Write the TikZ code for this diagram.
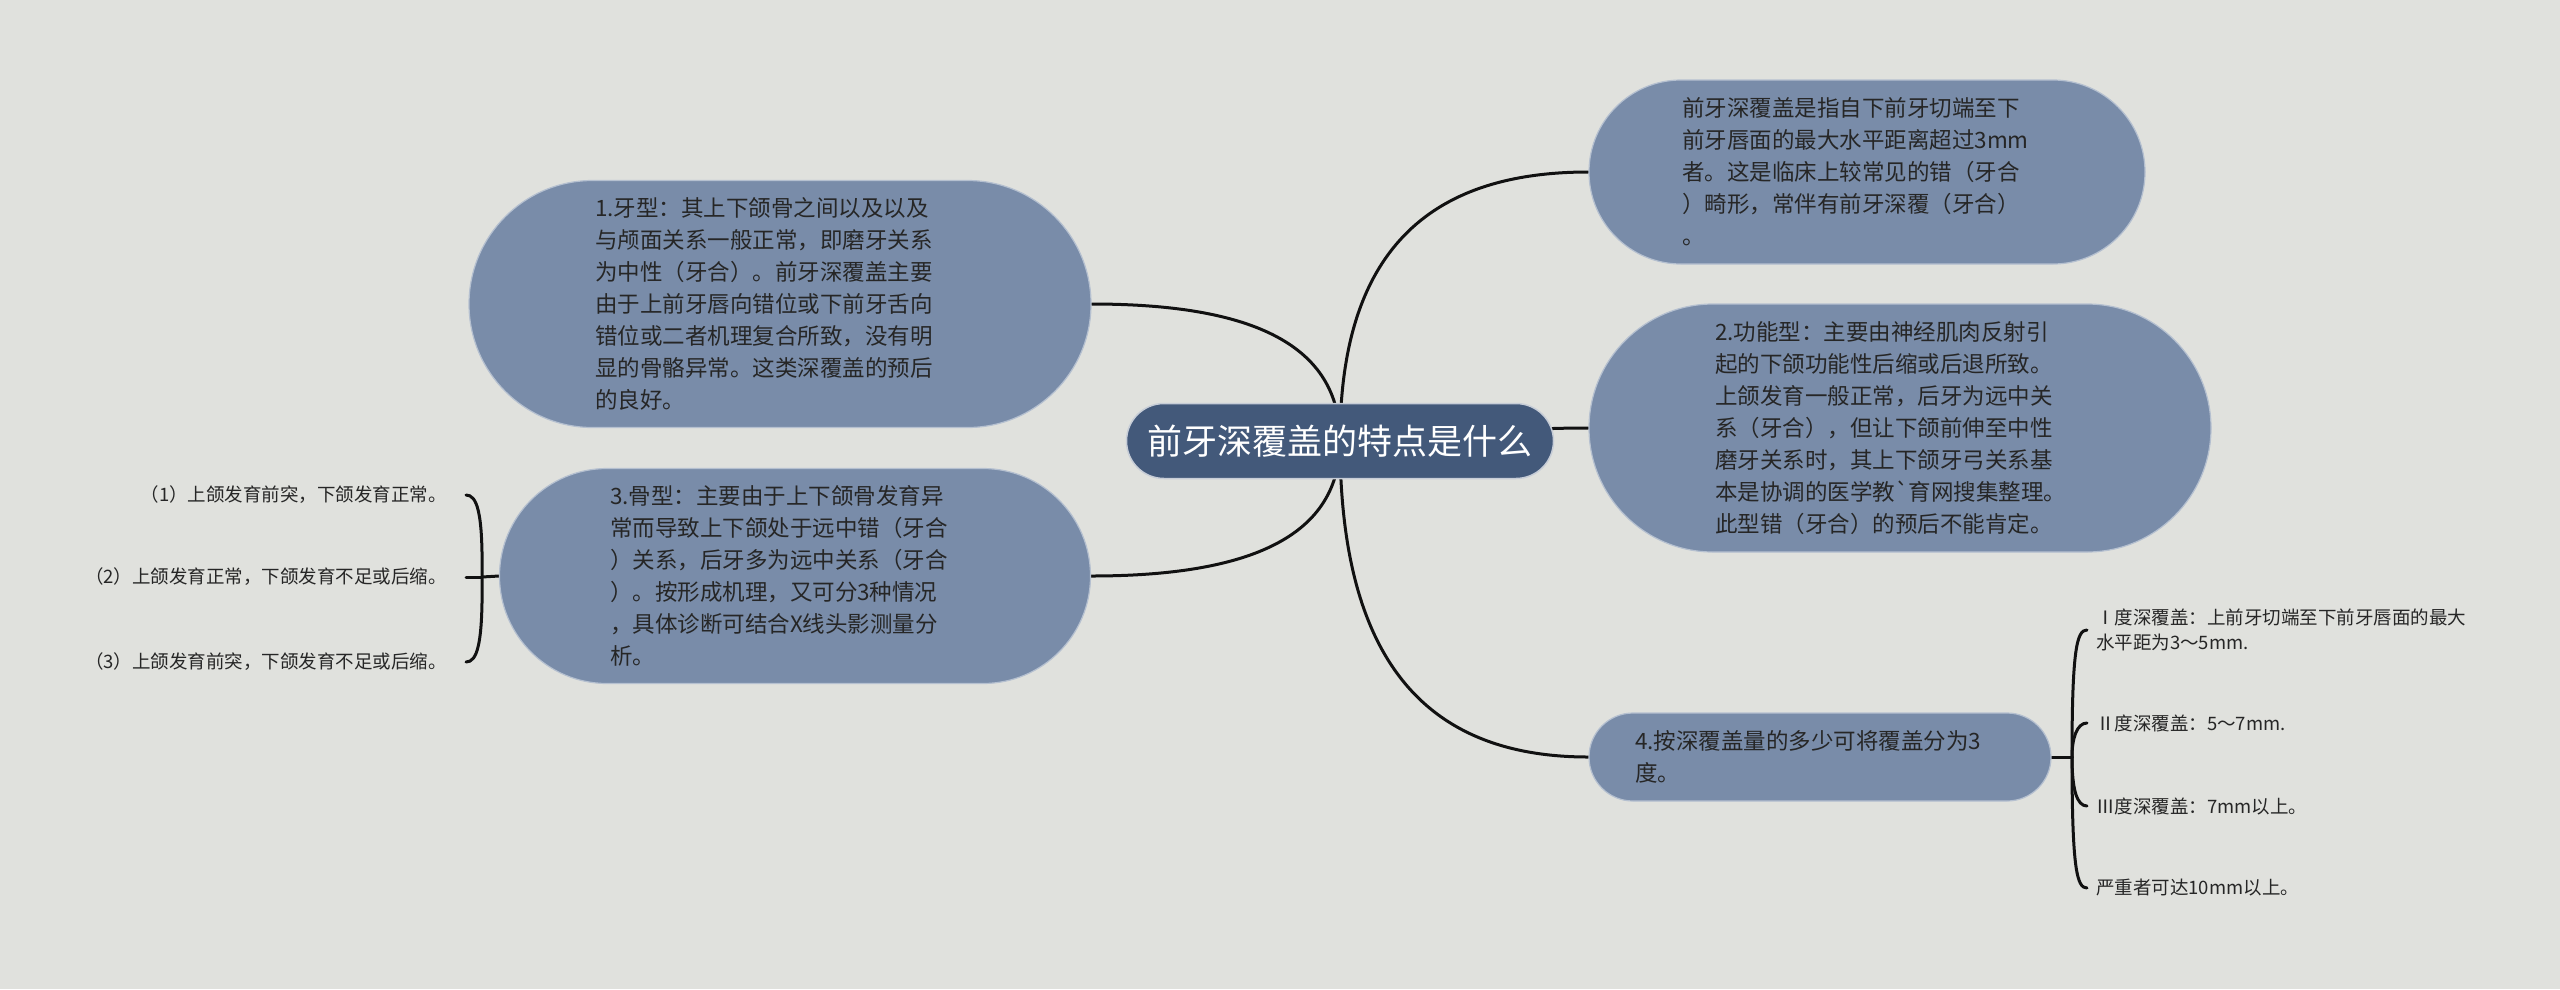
\documentclass[tikz,border=0pt]{standalone}
\usepackage{fontspec}
\setmainfont{Noto Sans CJK SC}[Ligatures=TeXOff]
\usetikzlibrary{shapes.misc}
\definecolor{bgc}{HTML}{E0E1DD}
\definecolor{nodec}{HTML}{798CA9}
\definecolor{rootc}{HTML}{43597A}
\definecolor{txtc}{HTML}{262626}
\definecolor{linec}{HTML}{111111}
\pgfdeclarelayer{bglayer}
\pgfdeclarelayer{edgelayer}
\pgfsetlayers{bglayer,edgelayer,main}
\begin{document}
\begin{tikzpicture}[x=1pt,y=-1pt,
  topic/.style={rounded rectangle, fill=nodec, draw=white!45!nodec, line width=1.2pt,
    text=txtc, text width=370pt, align=left, font=\fontsize{22.5}{32}\selectfont, inner sep=0pt},
  rootnode/.style={rounded rectangle, fill=rootc, draw=white!70!rootc, line width=1.5pt,
    text=white, font=\fontsize{35}{40}\selectfont, minimum width=427pt,
    minimum height=75pt, inner sep=0pt},
  leafL/.style={text=txtc, font=\fontsize{18.5}{25}\selectfont, inner ysep=0pt,
    inner xsep=19pt, anchor=east, align=left},
  leafR/.style={text=txtc, font=\fontsize{18.5}{25}\selectfont, inner ysep=0pt,
    inner xsep=9pt, anchor=west, align=left},
  conn/.style={draw=linec, line width=3pt, line cap=round},
]
\useasboundingbox (0,0) rectangle (2560,989);
\begin{pgfonlayer}{bglayer}
\fill[bgc] (0,0) rectangle (2560,989);
\end{pgfonlayer}

% root
\node[rootnode] (root) at (1340,441) {前牙深覆盖的特点是什么};

% main topics
\node[topic, minimum width=622pt, minimum height=247pt] (n1) at (780,304)
  {1.牙型：其上下颌骨之间以及以及\\与颅面关系一般正常，即磨牙关系\\为中性（牙合）。前牙深覆盖主要\\由于上前牙唇向错位或下前牙舌向\\错位或二者机理复合所致，没有明\\显的骨骼异常。这类深覆盖的预后\\的良好。};
\node[topic, minimum width=591pt, minimum height=215pt] (n3) at (795,576)
  {3.骨型：主要由于上下颌骨发育异\\常而导致上下颌处于远中错（牙合\\）关系，后牙多为远中关系（牙合\\）。按形成机理，又可分3种情况\\，具体诊断可结合X线头影测量分\\析。};
\node[topic, minimum width=556pt, minimum height=184pt] (tr) at (1867,172)
  {前牙深覆盖是指自下前牙切端至下\\前牙唇面的最大水平距离超过3mm\\者。这是临床上较常见的错（牙合\\）畸形，常伴有前牙深覆（牙合）\\。};
\node[topic, minimum width=622pt, minimum height=248pt] (n2) at (1900,428)
  {2.功能型：主要由神经肌肉反射引\\起的下颌功能性后缩或后退所致。\\上颌发育一般正常，后牙为远中关\\系（牙合），但让下颌前伸至中性\\磨牙关系时，其上下颌牙弓关系基\\本是协调的医学教`育网搜集整理。\\此型错（牙合）的预后不能肯定。};
\node[topic, minimum width=462pt, minimum height=88pt] (n4) at (1820,757)
  {4.按深覆盖量的多少可将覆盖分为3\\度。};

% left leaves
\node[leafL] (l1) at (466,495) {（1）上颌发育前突，下颌发育正常。};
\node[leafL] (l2) at (466,577) {（2）上颌发育正常，下颌发育不足或后缩。};
\node[leafL] (l3) at (466,662) {（3）上颌发育前突，下颌发育不足或后缩。};

% right leaves
\node[leafR] (r1) at (2087,630) {Ⅰ度深覆盖：上前牙切端至下前牙唇面的最大\\水平距为3～5mm.};
\node[leafR] (r2) at (2087,723) {Ⅱ度深覆盖：5～7mm.};
\node[leafR] (r3) at (2087,806) {Ⅲ度深覆盖：7mm以上。};
\node[leafR] (r4) at (2087,888) {严重者可达10mm以上。};

\coordinate (J3) at (482,577);
\coordinate (J4) at (2072,757);

\begin{pgfonlayer}{edgelayer}
\draw[conn] (root.center) .. controls (1340,253) and (1427,172) .. (tr.west);
\draw[conn] (root.center) .. controls (1450,441) and (1480,428) .. (n2.west);
\draw[conn] (root.center) .. controls (1340,662) and (1427,757) .. (n4.west);
\draw[conn] (root.center) .. controls (1340,345) and (1253,304) .. (n1.east);
\draw[conn] (root.center) .. controls (1340,535) and (1253,576) .. (n3.east);
% left bracket
\draw[conn] (n3.west) -- (J3);
\draw[conn] (J3) -- (l2.east);
\draw[conn] (J3) .. controls (483,512) and (477,495) .. (l1.east);
\draw[conn] (J3) .. controls (483,645) and (477,662) .. (l3.east);
% right bracket
\draw[conn] (n4.east) -- (J4);
\draw[conn] (J4) .. controls (2072,648) and (2077,630) .. (r1.west);
\draw[conn] (J4) .. controls (2072,738) and (2077,723) .. (r2.west);
\draw[conn] (J4) .. controls (2072,790) and (2077,806) .. (r3.west);
\draw[conn] (J4) .. controls (2072,870) and (2077,888) .. (r4.west);
\end{pgfonlayer}
\end{tikzpicture}
\end{document}
